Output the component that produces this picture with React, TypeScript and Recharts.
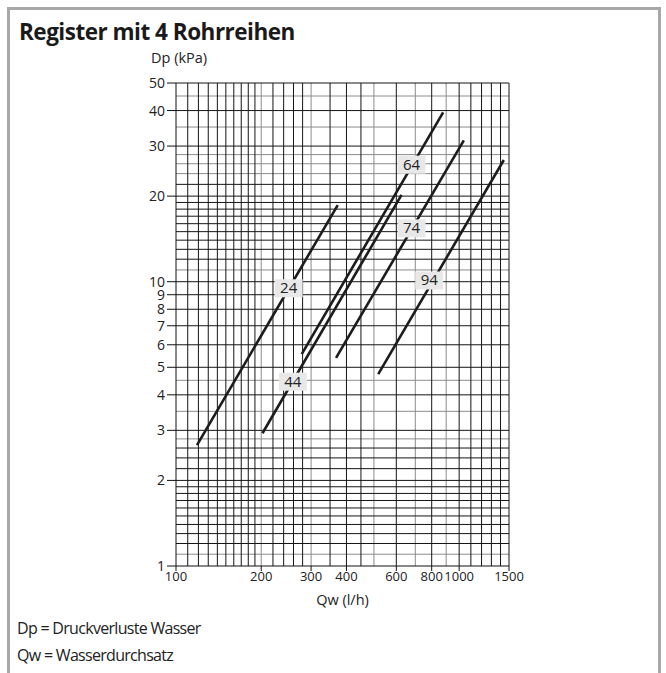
import React from 'react';
import { LineChart, Line, XAxis, YAxis, ReferenceLine, ReferenceDot } from 'recharts';

// Kurven: Qw (l/h) -> Dp (kPa), Anfangs- und Endpunkt je Kurve
const kurve24 = [{ qw: 118.6, dp: 2.66 }, { qw: 372.6, dp: 18.6 }];
const kurve44 = [{ qw: 202, dp: 2.93 }, { qw: 626, dp: 20.2 }];
const kurve64 = [{ qw: 278, dp: 5.56 }, { qw: 878, dp: 39.4 }];
const kurve74 = [{ qw: 367.5, dp: 5.4 }, { qw: 1039, dp: 31.4 }];
const kurve94 = [{ qw: 518, dp: 4.73 }, { qw: 1438, dp: 26.8 }];

const kurvenNamen = ['24', '44', '64', '74', '94'];
const labelQw = [250, 258.6, 679, 679, 784];
const labelDp = [9.48, 4.45, 25.8, 15.4, 10.1];

const xTicks = [100, 200, 300, 400, 600, 800, 1000, 1500];
const yTicks = [1, 2, 3, 4, 5, 6, 7, 8, 9, 10, 20, 30, 40, 50];

// Raster (Logpapier)
const xGridDunkel = [110, 120, 130, 140, 150, 160, 170, 180, 190, 220, 240, 260, 280, 350, 400, 450, 600, 800, 1000, 1100, 1200, 1300, 1400, 1500];
const xGridHell = [200, 300, 500, 700, 900];
const yGridDunkel = [1.2, 1.3, 1.4, 1.5, 1.6, 1.7, 1.8, 1.9, 2, 2.2, 2.4, 2.6, 3, 4, 5, 6, 7, 8, 9, 10, 12, 13, 14, 15, 16, 17, 18, 19, 20, 22, 30, 40, 50];
const yGridHell = [1.1, 2.8, 3.5, 4.5, 11, 24, 26, 28, 35, 45];

const kurven = [kurve24, kurve44, kurve64, kurve74, kurve94];

const FONT = '"Open Sans", "Noto Sans", sans-serif';

const LabelBox = (props: any) => {
  const { cx, cy, text } = props;
  if (cx == null || cy == null) return null;
  return (
    <g>
      <rect x={cx - 14} y={cy - 9} width={28} height={18} fill="#e8e8e8" />
      <text x={cx} y={cy + 5} textAnchor="middle" fontSize={15} fontFamily={FONT} fill="#222">
        {text}
      </text>
    </g>
  );
};

export default function App() {
  return (
    <div style={{ position: 'absolute', left: 0, top: 0, width: 666, height: 673, background: '#fff', overflow: 'hidden' }}>
      <div
        style={{
          position: 'absolute', left: 7, top: 7, width: 648, height: 700,
          border: '3px solid #a8a8a8', borderBottom: 'none',
        }}
      />
      <div style={{ position: 'absolute', left: 19, top: 16, fontFamily: FONT, fontWeight: 700, fontSize: 22.5, color: '#1a1a1a', letterSpacing: -0.5 }}>
        Register mit 4 Rohrreihen
      </div>
      <div style={{ position: 'absolute', left: 151, top: 48, fontFamily: FONT, fontSize: 14.5, color: '#222' }}>
        Dp (kPa)
      </div>
      <div style={{ position: 'absolute', left: 17, top: 617, fontFamily: FONT, fontSize: 16, color: '#222', letterSpacing: -0.7 }}>
        Dp = Druckverluste Wasser
      </div>
      <div style={{ position: 'absolute', left: 17, top: 644, fontFamily: FONT, fontSize: 16, color: '#222', letterSpacing: -0.7 }}>
        Qw = Wasserdurchsatz
      </div>
      <div style={{ position: 'absolute', left: 0, top: 0 }}>
        <LineChart width={666} height={673} margin={{ top: 83, right: 157, bottom: 77, left: 116 }}>
          <XAxis
            dataKey="qw"
            type="number"
            scale="log"
            domain={[100, 1500]}
            ticks={xTicks}
            allowDataOverflow
            height={30}
            tickSize={5}
            tickMargin={1}
            interval={0}
            stroke="#111"
            tick={{ fontSize: 13, fontFamily: FONT, fill: '#222' }}
            label={{ value: 'Qw (l/h)', position: 'insideBottom', offset: -9, fontSize: 14.5, fontFamily: FONT, fill: '#222' }}
          />
          <YAxis
            dataKey="dp"
            type="number"
            scale="log"
            domain={[1, 50]}
            ticks={yTicks}
            allowDataOverflow
            width={60}
            tickSize={9}
            tickMargin={2}
            interval={0}
            stroke="#111"
            tick={{ fontSize: 14, fontFamily: FONT, fill: '#222' }}
          />
          {xGridHell.map((v) => (
            <ReferenceLine key={'xh' + v} x={v} stroke="#8c8c8c" strokeWidth={1} />
          ))}
          {yGridHell.map((v) => (
            <ReferenceLine key={'yh' + v} y={v} stroke="#8c8c8c" strokeWidth={1} />
          ))}
          {xGridDunkel.map((v) => (
            <ReferenceLine key={'xd' + v} x={v} stroke="#151515" strokeWidth={1} />
          ))}
          {yGridDunkel.map((v) => (
            <ReferenceLine key={'yd' + v} y={v} stroke="#151515" strokeWidth={1} />
          ))}
          {kurven.map((d, i) => (
            <Line
              key={kurvenNamen[i]}
              data={d}
              dataKey="dp"
              type="linear"
              stroke="#1c1c1c"
              strokeWidth={2.6}
              dot={false}
              activeDot={false}
              isAnimationActive={false}
            />
          ))}
          {kurvenNamen.map((n, i) => (
            <ReferenceDot
              key={'lbl' + n}
              x={labelQw[i]}
              y={labelDp[i]}
              r={0}
              shape={(p: any) => <LabelBox {...p} text={n} />}
            />
          ))}
        </LineChart>
      </div>
    </div>
  );
}
